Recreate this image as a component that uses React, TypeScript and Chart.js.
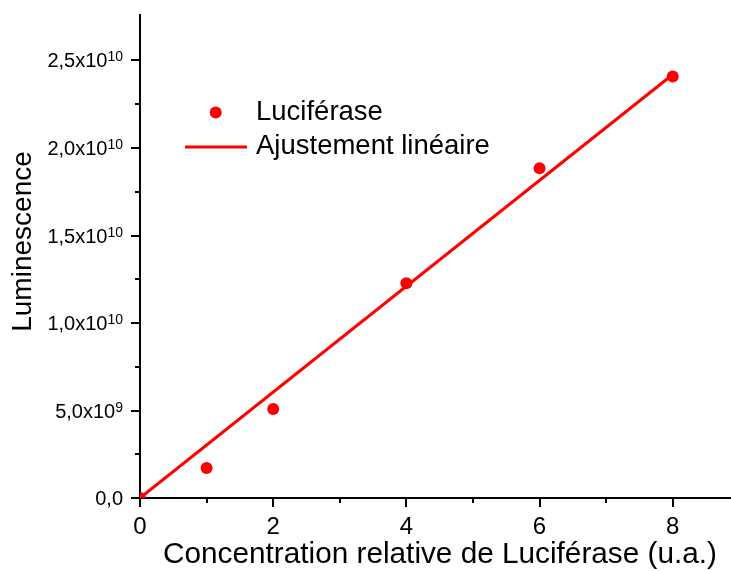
import React, { useEffect, useRef } from 'react';
import { Chart, registerables } from 'chart.js';

Chart.register(...registerables);

// ---- data ----
const concentrations = [0, 1, 2, 4, 6, 8];
const luminescence = [0, 1.71e9, 5.08e9, 1.227e10, 1.884e10, 2.409e10];
const fitX = [0, 8];
const fitY = [0, 2.42e10];

const xTickValues = [0, 1, 2, 3, 4, 5, 6, 7, 8];
const xTickLabels = ['0', '', '2', '', '4', '', '6', '', '8'];
const yTickValues = [0, 2.5e9, 5e9, 7.5e9, 1e10, 1.25e10, 1.5e10, 1.75e10, 2e10, 2.25e10, 2.5e10];
// tick label = mantissa + "x10" + exponent (exponent drawn as superscript)
const yTickMantissa = ['0,0', '', '5,0', '', '1,0', '', '1,5', '', '2,0', '', '2,5'];
const yTickExponent = ['', '', '9', '', '10', '', '10', '', '10', '', '10'];

const seriesNames = ['Luciférase', 'Ajustement linéaire'];
const xTitle = 'Concentration relative de Luciférase (u.a.)';
const yTitle = 'Luminescence';

const RED = '#ff0000';
const FONT = "'Liberation Sans', Arial, Helvetica, sans-serif";

const tickPlugin = {
  id: 'customTicks',
  afterDraw(chart: any) {
    const ctx = chart.ctx;
    const xs = chart.scales.x;
    const ys = chart.scales.y;
    const area = chart.chartArea;
    ctx.save();
    ctx.strokeStyle = '#000';
    ctx.lineWidth = 2;
    xTickValues.forEach((v, i) => {
      const px = Math.round(xs.getPixelForValue(v));
      const len = xTickLabels[i] ? 9 : 5;
      ctx.beginPath();
      ctx.moveTo(px, area.bottom);
      ctx.lineTo(px, area.bottom + len);
      ctx.stroke();
    });
    // y ticks and labels with superscript exponents
    ctx.fillStyle = '#000';
    ctx.textBaseline = 'alphabetic';
    ctx.textAlign = 'left';
    yTickValues.forEach((v, i) => {
      const py = Math.round(ys.getPixelForValue(v));
      const major = yTickMantissa[i] !== '';
      const len = major ? 9 : 5;
      ctx.beginPath();
      ctx.moveTo(area.left, py);
      ctx.lineTo(area.left - len, py);
      ctx.stroke();
      if (!major) return;
      const base = yTickExponent[i] ? yTickMantissa[i] + 'x10' : yTickMantissa[i];
      const sup = yTickExponent[i];
      ctx.font = `20px ${FONT}`;
      const wBase = ctx.measureText(base).width;
      ctx.font = `14px ${FONT}`;
      const wSup = sup ? ctx.measureText(sup).width : 0;
      const right = area.left - 17;
      const x0 = right - wBase - wSup;
      const baseline = py + 7;
      ctx.font = `20px ${FONT}`;
      ctx.fillText(base, x0, baseline);
      if (sup) {
        ctx.font = `14px ${FONT}`;
        ctx.fillText(sup, x0 + wBase, baseline - 6.5);
      }
    });
    // axis titles
    ctx.fillStyle = '#000';
    ctx.textAlign = 'center';
    ctx.textBaseline = 'middle';
    ctx.font = `29.75px ${FONT}`;
    ctx.fillText(xTitle, (area.left + area.right) / 2 + 5, area.bottom + 57);
    ctx.save();
    ctx.translate(23, (area.top + area.bottom) / 2 - 15);
    ctx.rotate(-Math.PI / 2);
    ctx.font = `28px ${FONT}`;
    ctx.fillText(yTitle, 0, 0);
    ctx.restore();
    // legend
    const lx = area.left;
    const ty = area.top;
    ctx.fillStyle = RED;
    ctx.beginPath();
    ctx.arc(lx + 75.7, ty + 97.5, 6, 0, Math.PI * 2);
    ctx.fill();
    ctx.strokeStyle = RED;
    ctx.lineWidth = 3;
    ctx.beginPath();
    ctx.moveTo(lx + 45, ty + 132);
    ctx.lineTo(lx + 107, ty + 132);
    ctx.stroke();
    ctx.fillStyle = '#000';
    ctx.font = `27.5px ${FONT}`;
    ctx.textBaseline = 'middle';
    ctx.textAlign = 'left';
    ctx.fillText(seriesNames[0], lx + 116, ty + 97.5);
    ctx.fillText(seriesNames[1], lx + 116, ty + 131.5);
    ctx.restore();
  },
};

export default function App() {
  const canvasRef = useRef<HTMLCanvasElement | null>(null);

  useEffect(() => {
    if (!canvasRef.current) return;
    const chart = new Chart(canvasRef.current, {
      type: 'scatter',
      data: {
        datasets: [
          {
            label: seriesNames[0],
            data: concentrations.map((x, i) => ({ x, y: luminescence[i] })),
            backgroundColor: RED,
            borderColor: RED,
            pointRadius: 6,
            pointBorderWidth: 0,
            showLine: false,
            clip: 0,
            order: 1,
          },
          {
            label: seriesNames[1],
            type: 'line',
            data: fitX.map((x, i) => ({ x, y: fitY[i] })),
            borderColor: RED,
            backgroundColor: RED,
            borderWidth: 3,
            pointRadius: 0,
            fill: false,
            order: 2,
          } as any,
        ],
      },
      options: {
        animation: false,
        responsive: true,
        maintainAspectRatio: false,
        layout: { autoPadding: false, padding: { top: 15, right: 1, left: 0, bottom: 0 } },
        plugins: {
          legend: { display: false },
          tooltip: { enabled: false },
        },
        scales: {
          x: {
            type: 'linear',
            min: 0,
            max: 8.86,
            afterBuildTicks: (scale: any) => {
              scale.ticks = xTickValues.map((v) => ({ value: v }));
            },
            afterFit: (scale: any) => {
              scale.height = 73;
            },
            grid: { display: false, drawTicks: false },
            border: { display: true, color: '#000', width: 2 },
            ticks: {
              autoSkip: false,
              maxRotation: 0,
              padding: 15,
              color: '#000',
              font: { family: FONT, size: 24 },
              callback: (_v: any, i: number) => xTickLabels[i],
            },
            title: { display: false, text: xTitle },
          },
          y: {
            type: 'linear',
            min: 0,
            max: 2.76e10,
            afterBuildTicks: (scale: any) => {
              scale.ticks = yTickValues.map((v) => ({ value: v }));
            },
            afterFit: (scale: any) => {
              scale.width = 140;
            },
            grid: { display: false, drawTicks: false },
            border: { display: true, color: '#000', width: 2 },
            ticks: { display: false },
            title: { display: false, text: yTitle },
          },
        },
      },
      plugins: [tickPlugin],
    });
    return () => chart.destroy();
  }, []);

  return (
    <div style={{ position: 'fixed', left: 0, top: 0, width: 731, height: 571, background: '#fff' }}>
      <canvas ref={canvasRef} />
    </div>
  );
}
